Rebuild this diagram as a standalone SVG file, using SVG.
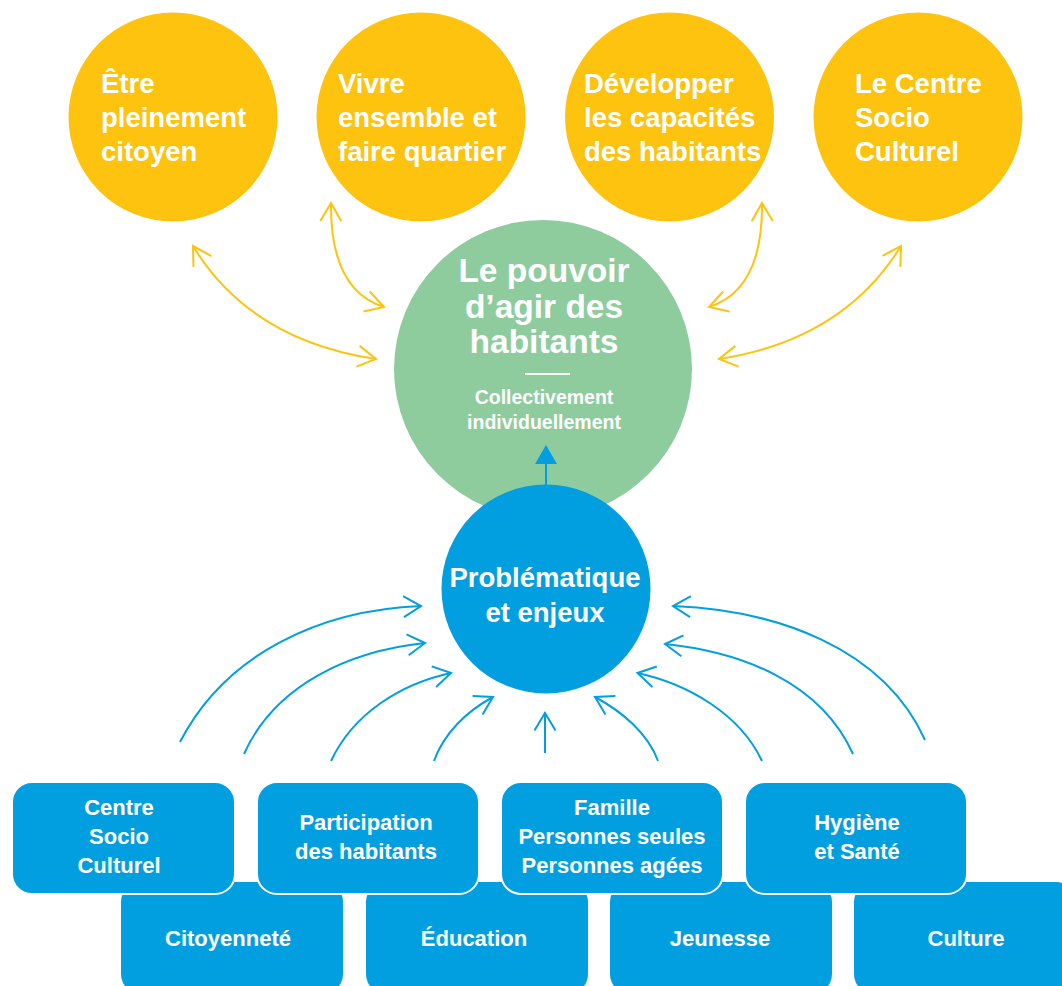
<svg xmlns="http://www.w3.org/2000/svg" width="1062" height="986" viewBox="0 0 1062 986">
<style>
.bg{fill:#ffffff}
.yc{fill:#FEC30F}
.gc{fill:#8ECC9E}
.bc{fill:#029FE0}
.box{fill:#029FE0}
.boxtop{fill:#029FE0;stroke:#ffffff;stroke-width:2}
text{font-family:"Liberation Sans",Arial,sans-serif;font-weight:bold;fill:#ffffff}
.yt{font-size:27.5px}
.gt{font-size:33.5px;text-anchor:middle}
.gs{font-size:19.5px;text-anchor:middle}
.bt{font-size:27.5px;text-anchor:middle}
.xt{font-size:22px;text-anchor:middle}
.ya{fill:none;stroke:#FEC30F;stroke-width:2;marker-start:url(#yh);marker-end:url(#yh)}
.ba{fill:none;stroke:#029FE0;stroke-width:2;marker-end:url(#bh)}
</style>
<defs>
<marker id="yh" markerUnits="userSpaceOnUse" markerWidth="40" markerHeight="40" refX="0" refY="0" orient="auto-start-reverse" overflow="visible">
<path d="M -18.2,-10.5 L 0,0 L -18.2,10.5" fill="none" stroke="#FEC30F" stroke-width="2"/>
</marker>
<marker id="bh" markerUnits="userSpaceOnUse" markerWidth="40" markerHeight="40" refX="0" refY="0" orient="auto" overflow="visible">
<path d="M -17.5,-10.5 L 0,0 L -17.5,10.5" fill="none" stroke="#029FE0" stroke-width="2"/>
</marker>
</defs>
<rect class="bg" x="0" y="0" width="1062" height="986"/>

<g id="node-etre-citoyen">
<circle class="yc" cx="173" cy="117" r="104.5"/>
<text class="yt" x="101" y="93">Être</text>
<text class="yt" x="101" y="127">pleinement</text>
<text class="yt" x="101" y="161">citoyen</text>
</g>
<g id="node-vivre-ensemble">
<circle class="yc" cx="421" cy="117" r="104.5"/>
<text class="yt" x="338" y="93">Vivre</text>
<text class="yt" x="338" y="127">ensemble et</text>
<text class="yt" x="338" y="161">faire quartier</text>
</g>
<g id="node-developper">
<circle class="yc" cx="669.5" cy="117" r="104.5"/>
<text class="yt" x="584" y="93">Développer</text>
<text class="yt" x="584" y="127">les capacités</text>
<text class="yt" x="584" y="161">des habitants</text>
</g>
<g id="node-centre-socio">
<circle class="yc" cx="918" cy="117" r="104.5"/>
<text class="yt" x="855" y="93">Le Centre</text>
<text class="yt" x="855" y="127">Socio</text>
<text class="yt" x="855" y="161">Culturel</text>
</g>

<g id="node-pouvoir-agir">
<circle class="gc" cx="543" cy="369" r="149"/>
<text class="gt" x="544" y="282">Le pouvoir</text>
<text class="gt" x="544" y="318">d’agir des</text>
<text class="gt" x="544" y="353">habitants</text>
<line x1="525" y1="374" x2="570" y2="374" stroke="#ffffff" stroke-width="2"/>
<text class="gs" x="544" y="404">Collectivement</text>
<text class="gs" x="544" y="429">individuellement</text>
</g>

<g id="node-problematique">
<circle class="bc" cx="546" cy="589" r="104.5"/>
<text class="bt" x="545" y="587">Problématique</text>
<text class="bt" x="545" y="622">et enjeux</text>
</g>

<g id="connectors">
<path class="ya" d="M 193,246 Q 250,340 376,359"/>
<path class="ya" d="M 331,203 Q 330,290 384,307"/>
<path class="ya" d="M 762,203 Q 763,290 709,307"/>
<path class="ya" d="M 901,246 Q 843,340 719,359"/>
<line x1="546" y1="485" x2="546" y2="462" stroke="#029FE0" stroke-width="2"/>
<polygon points="546,445 535,464 557,464" fill="#029FE0"/>
<path class="ba" d="M 180,742 C 226,653 321,610 421,606"/>
<path class="ba" d="M 244,754 C 275,685 349,651 425,643"/>
<path class="ba" d="M 331,761 C 353,714 400,684 451,673"/>
<path class="ba" d="M 434,761 C 444,733 467,711 493,697"/>
<path class="ba" d="M 545,753 L 545,713"/>
<path class="ba" d="M 658,761 C 648,733 621,711 595,697"/>
<path class="ba" d="M 762,761 C 740,714 688,684 637.5,673"/>
<path class="ba" d="M 853,754 C 821,683 743,652 665,644"/>
<path class="ba" d="M 925,740 C 883,647 775,610 673,606"/>
</g>

<g id="node-citoyennete">
<rect class="box" x="121" y="882" width="222" height="112" rx="20"/>
<text class="xt" x="228" y="946">Citoyenneté</text>
</g>
<g id="node-education">
<rect class="box" x="366" y="882" width="222" height="112" rx="20"/>
<text class="xt" x="474" y="946">Éducation</text>
</g>
<g id="node-jeunesse">
<rect class="box" x="610" y="882" width="222" height="112" rx="20"/>
<text class="xt" x="720" y="946">Jeunesse</text>
</g>
<g id="node-culture">
<rect class="box" x="854" y="882" width="222" height="112" rx="20"/>
<text class="xt" x="966" y="946">Culture</text>
</g>

<g id="node-centre-socio-culturel">
<rect class="boxtop" x="12" y="782" width="223" height="112" rx="20"/>
<text class="xt" x="119" y="815">Centre</text>
<text class="xt" x="119" y="844">Socio</text>
<text class="xt" x="119" y="873">Culturel</text>
</g>
<g id="node-participation">
<rect class="boxtop" x="257" y="782" width="222" height="112" rx="20"/>
<text class="xt" x="366" y="830">Participation</text>
<text class="xt" x="366" y="859">des habitants</text>
</g>
<g id="node-famille">
<rect class="boxtop" x="501" y="782" width="222" height="112" rx="20"/>
<text class="xt" x="612" y="815">Famille</text>
<text class="xt" x="612" y="844">Personnes seules</text>
<text class="xt" x="612" y="873">Personnes agées</text>
</g>
<g id="node-hygiene">
<rect class="boxtop" x="745" y="782" width="222" height="112" rx="20"/>
<text class="xt" x="857" y="830">Hygiène</text>
<text class="xt" x="857" y="859">et Santé</text>
</g>
</svg>
